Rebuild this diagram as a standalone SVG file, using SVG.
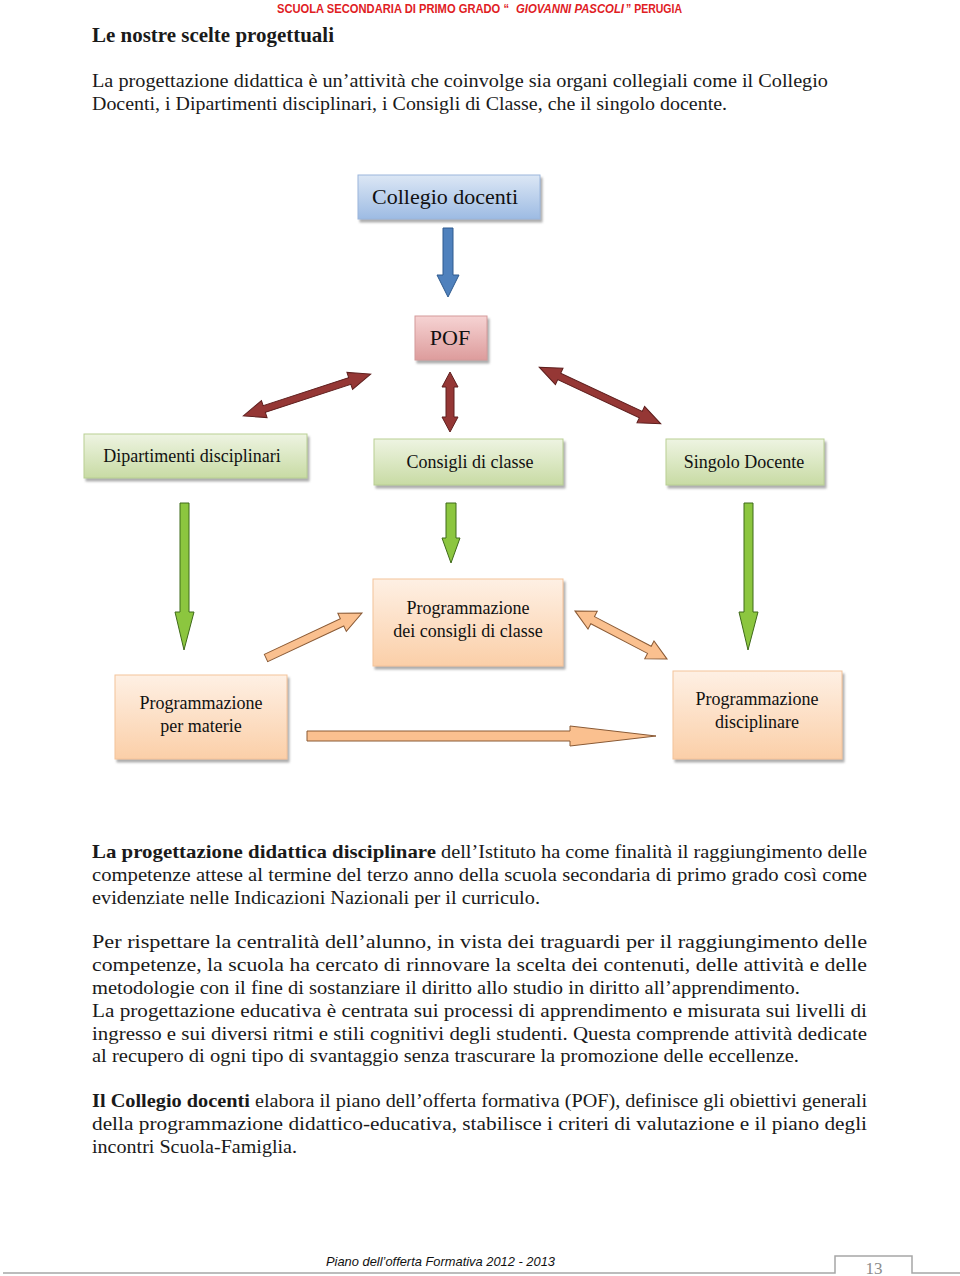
<svg xmlns="http://www.w3.org/2000/svg" width="960" height="1276" viewBox="0 0 960 1276">
<defs>
<linearGradient id="gBlue" x1="0" y1="0" x2="0" y2="1"><stop offset="0" stop-color="#dce7f5"/><stop offset="1" stop-color="#9dbbe3"/></linearGradient>
<linearGradient id="gPink" x1="0" y1="0" x2="0" y2="1"><stop offset="0" stop-color="#f6d3d3"/><stop offset="1" stop-color="#dd9c9c"/></linearGradient>
<linearGradient id="gGreen" x1="0" y1="0" x2="0" y2="1"><stop offset="0" stop-color="#eef4e2"/><stop offset="1" stop-color="#c8dba4"/></linearGradient>
<linearGradient id="gPeach" x1="0" y1="0" x2="0" y2="1"><stop offset="0" stop-color="#fef0e4"/><stop offset="1" stop-color="#fbcfa8"/></linearGradient>
<filter id="sh" x="-10%" y="-10%" width="130%" height="140%"><feDropShadow dx="2" dy="3" stdDeviation="1.2" flood-color="#777" flood-opacity="0.6"/></filter>
</defs>
<style>
.body{font-family:"Liberation Serif","DejaVu Serif",serif;font-size:19px;fill:#1a1a1a}
.b{font-weight:bold}
.hdr{font-family:"Liberation Sans",Arial,sans-serif;font-size:12px;font-weight:bold;fill:#e0201f}
.node{font-family:"Liberation Serif","Times New Roman",serif;font-size:18px;fill:#111;text-anchor:middle}
.big{font-size:22px}
.blue{fill:url(#gBlue);stroke:#9bb6dc;stroke-width:1}
.pink{fill:url(#gPink);stroke:#d49a9a;stroke-width:1}
.green{fill:url(#gGreen);stroke:#b9cf93;stroke-width:1}
.peach{fill:url(#gPeach);stroke:#f4c39a;stroke-width:1}
.ablue{fill:#4f81bd;stroke:#2f5b8f;stroke-width:1}
.ared{fill:#953735;stroke:#5e1f1e;stroke-width:1}
.agreen{fill:#8cc63f;stroke:#3f6a1a;stroke-width:1}
.apeach{fill:#fac08f;stroke:#8a5a35;stroke-width:1}
</style>
<rect width="960" height="1276" fill="#fff"/>

<text x="277" y="13" class="hdr" textLength="232" lengthAdjust="spacingAndGlyphs">SCUOLA SECONDARIA DI PRIMO GRADO “</text>
<text x="516" y="13" class="hdr" font-style="italic" textLength="108" lengthAdjust="spacingAndGlyphs">GIOVANNI PASCOLI</text>
<text x="626" y="13" class="hdr" textLength="56" lengthAdjust="spacingAndGlyphs">” PERUGIA</text>
<text x="92" y="42" class="body b" textLength="242" lengthAdjust="spacingAndGlyphs" style="font-size:20px">Le nostre scelte progettuali</text>

<text x="92" y="87" class="body" textLength="736" lengthAdjust="spacingAndGlyphs">La progettazione didattica è un’attività che coinvolge sia  organi collegiali come il Collegio</text>
<text x="92" y="110" class="body" textLength="635" lengthAdjust="spacingAndGlyphs">Docenti, i Dipartimenti disciplinari, i Consigli di Classe, che il singolo docente.</text>

<g id="connectors">
<polygon class="ablue" points="443,228 453,228 453,275 459,275 448,297 437,275 443,275"/>
<polygon class="ared" transform="translate(307,395) rotate(-18.2)" points="-67,0 -45,-9 -45,-3.5 45,-3.5 45,-9 67,0 45,9 45,3.5 -45,3.5 -45,9"/>
<polygon class="ared" points="450,372 458,387 454,387 454,417 458,417 450,432 442,417 446,417 446,387 442,387"/>
<polygon class="ared" transform="translate(600,395.5) rotate(25)" points="-67,0 -45,-9 -45,-3.5 45,-3.5 45,-9 67,0 45,9 45,3.5 -45,3.5 -45,9"/>
<polygon class="agreen" points="180,503 189,503 189,612 194,612 184,650 175,612 180,612"/>
<polygon class="agreen" points="446,503 456,503 456,538 460,538 451,563 442,538 446,538"/>
<polygon class="agreen" points="744,503 753,503 753,612 758,612 748,650 739,612 744,612"/>
<polygon class="apeach" transform="translate(314,635.5) rotate(-25.1)" points="-53,-4 31,-4 31,-10 53,0 31,10 31,4 -53,4"/>
<polygon class="apeach" transform="translate(621,635) rotate(27.6)" points="-52,0 -32,-10 -32,-4 32,-4 32,-10 52,0 32,10 32,4 -32,4 -32,10"/>
<polygon class="apeach" points="307,731 570,731 570,726 656,736 570,746 570,741 307,741"/>
</g>

<g id="collegio">
<rect x="358" y="175" width="182" height="44" class="blue" filter="url(#sh)"/>
<text x="445" y="204" class="node big">Collegio docenti</text>
</g>
<g id="pof">
<rect x="415" y="316" width="72" height="44" class="pink" filter="url(#sh)"/>
<text x="450" y="345" class="node big">POF</text>
</g>
<g id="dipartimenti">
<rect x="84" y="434" width="223" height="44" class="green" filter="url(#sh)"/>
<text x="192" y="462" class="node">Dipartimenti disciplinari</text>
</g>
<g id="consigli">
<rect x="374" y="439" width="189" height="46" class="green" filter="url(#sh)"/>
<text x="470" y="468" class="node">Consigli di classe</text>
</g>
<g id="singolo">
<rect x="666" y="439" width="158" height="46" class="green" filter="url(#sh)"/>
<text x="744" y="468" class="node">Singolo Docente</text>
</g>
<g id="prog-consigli">
<rect x="373" y="579" width="190" height="87" class="peach" filter="url(#sh)"/>
<text x="468" y="614" class="node">Programmazione</text>
<text x="468" y="637" class="node">dei consigli di classe</text>
</g>
<g id="prog-materie">
<rect x="115" y="675" width="172" height="84" class="peach" filter="url(#sh)"/>
<text x="201" y="709" class="node">Programmazione</text>
<text x="201" y="732" class="node">per materie</text>
</g>
<g id="prog-disciplinare">
<rect x="673" y="671" width="169" height="88" class="peach" filter="url(#sh)"/>
<text x="757" y="705" class="node">Programmazione</text>
<text x="757" y="728" class="node">disciplinare</text>
</g>

<text x="92" y="858" class="body b" textLength="344" lengthAdjust="spacingAndGlyphs">La progettazione didattica disciplinare</text>
<text x="441" y="858" class="body" textLength="426" lengthAdjust="spacingAndGlyphs">dell’Istituto ha come finalità il raggiungimento delle</text>
<text x="92" y="881" class="body" textLength="775" lengthAdjust="spacingAndGlyphs">competenze attese al termine del terzo anno della scuola secondaria di primo grado così come</text>
<text x="92" y="904" class="body" textLength="448" lengthAdjust="spacingAndGlyphs">evidenziate nelle Indicazioni Nazionali per il curriculo.</text>

<text x="92" y="948" class="body" textLength="775" lengthAdjust="spacingAndGlyphs">Per rispettare la centralità dell’alunno, in vista dei traguardi per il raggiungimento delle</text>
<text x="92" y="971" class="body" textLength="775" lengthAdjust="spacingAndGlyphs">competenze, la scuola ha cercato di rinnovare la scelta dei contenuti, delle attività e delle</text>
<text x="92" y="994" class="body" textLength="708" lengthAdjust="spacingAndGlyphs">metodologie con il fine di sostanziare il diritto allo studio in diritto all’apprendimento.</text>
<text x="92" y="1017" class="body" textLength="775" lengthAdjust="spacingAndGlyphs">La progettazione educativa è  centrata sui processi di apprendimento e misurata sui livelli di</text>
<text x="92" y="1040" class="body" textLength="775" lengthAdjust="spacingAndGlyphs">ingresso e sui diversi ritmi e stili cognitivi degli studenti. Questa comprende attività dedicate</text>
<text x="92" y="1062" class="body" textLength="707" lengthAdjust="spacingAndGlyphs">al recupero di ogni tipo di svantaggio senza trascurare la promozione delle eccellenze.</text>

<text x="92" y="1107" class="body b" textLength="158" lengthAdjust="spacingAndGlyphs">Il Collegio docenti</text>
<text x="255" y="1107" class="body" textLength="612" lengthAdjust="spacingAndGlyphs">elabora il piano dell’offerta formativa (POF), definisce gli obiettivi generali</text>
<text x="92" y="1130" class="body" textLength="775" lengthAdjust="spacingAndGlyphs">della programmazione didattico-educativa, stabilisce i criteri di valutazione e il piano degli</text>
<text x="92" y="1153" class="body" textLength="205" lengthAdjust="spacingAndGlyphs">incontri Scuola-Famiglia.</text>

<text x="326" y="1266" textLength="229" lengthAdjust="spacingAndGlyphs" style="font-family:'Liberation Sans',Arial,sans-serif;font-size:13px;font-style:italic;fill:#111">Piano dell’offerta Formativa 2012 - 2013</text>
<polyline points="3,1273 835,1273 835,1256 912,1256 912,1273 960,1273" fill="none" stroke="#a6a6a6" stroke-width="1.5"/>
<text x="874" y="1274" text-anchor="middle" style="font-family:'Liberation Serif',serif;font-size:17px;fill:#8c8c8c">13</text>
</svg>
